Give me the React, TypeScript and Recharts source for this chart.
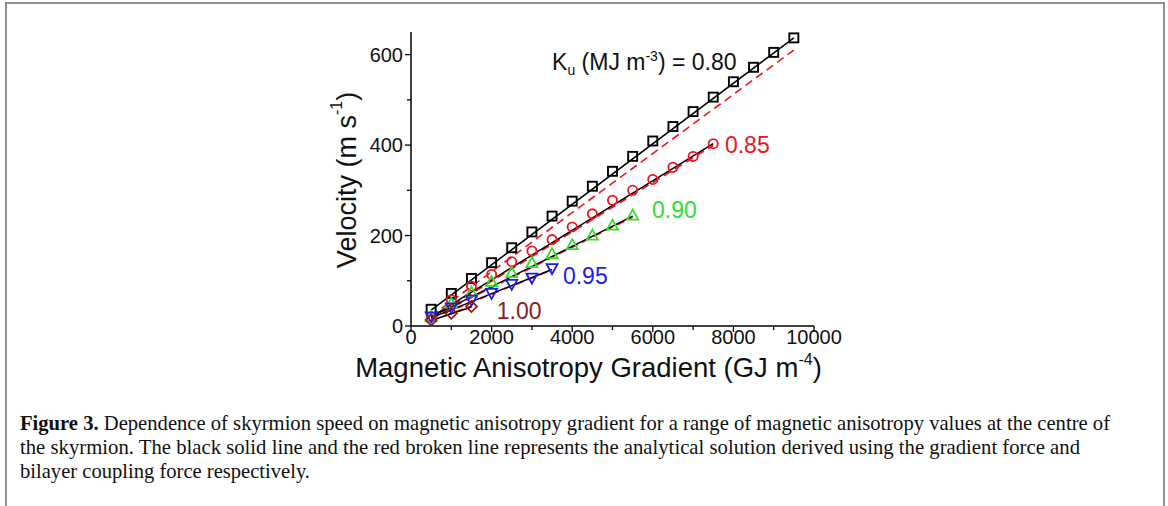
import React from 'react'
import { LineChart, Line, XAxis, YAxis, ReferenceDot, Label } from 'recharts'

// gradient values (GJ m^-4) at which the simulations were run
const GRADIENT = [500, 1000, 1500, 2000, 2500, 3000, 3500, 4000, 4500, 5000, 5500, 6000, 6500, 7000, 7500, 8000, 8500, 9000, 9500]

// simulated velocities (m/s) for each Ku value
const V080 = [37, 72, 105, 140, 173, 208, 243, 276, 309, 342, 375, 409, 441, 474, 506, 540, 572, 605, 637]
const V085 = [20, 58, 88, 114, 142, 166, 191, 219, 248, 278, 300, 324, 351, 375, 403]
const V090 = [20, 50, 75, 98, 118, 140, 160, 180, 201, 223, 245]
const V095 = [20, 40, 57, 72, 92, 106, 127]
const V100 = [13, 28, 43]

// analytical lines: [start, end] velocity, solid = gradient force, dashed = bilayer coupling
const FIT_X080 = [500, 9500]
const FIT_X085 = [500, 7500]
const FIT_X090 = [500, 5500]
const FIT_X095 = [500, 3500]
const FIT_X100 = [500, 1500]
const SOLID_080 = [35, 637]
const DASH_080 = [22, 610]
const SOLID_085 = [20, 403]
const DASH_085 = [17, 399]
const SOLID_090 = [20, 243]
const DASH_090 = [18, 241]
const SOLID_095 = [18, 125]
const DASH_095 = [17, 124]
const SOLID_100 = [12, 42]
const DASH_100 = [12, 44]

const X_TICKS = [0, 1000, 2000, 3000, 4000, 5000, 6000, 7000, 8000, 9000, 10000]
const Y_TICKS = [0, 100, 200, 300, 400, 500, 600]

const BLACK = '#000000'
const RED = '#f0141e'
const GREEN = '#2ee02e'
const BLUE = '#1c1cf0'
const MAROON = '#8e1c1c'
const SANS = '"Liberation Sans", Arial, sans-serif'

const pts = (xs: number[], vs: number[]) => vs.map((v, i) => ({ g: xs[i], v }))

// marker shapes
const square = (c: string) => (p: any) => (
  <rect key={`sq-${p.index}`} x={p.cx - 4.5} y={p.cy - 4.5} width={9} height={9} fill="none" stroke={c} strokeWidth={1.9} />
)
const circle = (c: string) => (p: any) => (
  <circle key={`ci-${p.index}`} cx={p.cx} cy={p.cy} r={4.6} fill="none" stroke={c} strokeWidth={1.8} />
)
const triUp = (c: string) => (p: any) => (
  <path key={`tu-${p.index}`} d={`M${p.cx},${p.cy - 5.5} L${p.cx + 5.5},${p.cy + 4.5} L${p.cx - 5.5},${p.cy + 4.5} Z`} fill="none" stroke={c} strokeWidth={1.8} />
)
const triDown = (c: string) => (p: any) => (
  <path key={`td-${p.index}`} d={`M${p.cx},${p.cy + 5.5} L${p.cx + 5.5},${p.cy - 4.5} L${p.cx - 5.5},${p.cy - 4.5} Z`} fill="none" stroke={c} strokeWidth={1.8} />
)
const diamond = (c: string) => (p: any) => (
  <path key={`di-${p.index}`} d={`M${p.cx},${p.cy - 5.5} L${p.cx + 5.5},${p.cy} L${p.cx},${p.cy + 5.5} L${p.cx - 5.5},${p.cy} Z`} fill="none" stroke={c} strokeWidth={1.8} />
)

// ticks: outward on bottom/left, inward on top/right
const BottomTick = ({ x, y, payload }: any) => {
  const major = payload.value % 2000 === 0
  return (
    <g>
      <line x1={x} y1={y} x2={x} y2={y + (major ? 6 : 4)} stroke={BLACK} strokeWidth={1.3} />
      {major && (
        <text x={x} y={y + 18} textAnchor="middle" fontSize={20} fontFamily={SANS} fill="#111">{payload.value}</text>
      )}
    </g>
  )
}
const TopTick = ({ x, y, payload }: any) => {
  const major = payload.value % 2000 === 0
  return <line x1={x} y1={y} x2={x} y2={y + (major ? 6 : 4)} stroke={BLACK} strokeWidth={1.3} />
}
const LeftTick = ({ x, y, payload }: any) => {
  const major = payload.value % 200 === 0
  return (
    <g>
      <line x1={x - (major ? 6 : 4)} y1={y} x2={x} y2={y} stroke={BLACK} strokeWidth={1.3} />
      {major && (
        <text x={x - 8} y={y + 7} textAnchor="end" fontSize={20} fontFamily={SANS} fill="#111">{payload.value}</text>
      )}
    </g>
  )
}
const RightTick = ({ x, y, payload }: any) => {
  const major = payload.value % 200 === 0
  return <line x1={x - (major ? 6 : 4)} y1={y} x2={x} y2={y} stroke={BLACK} strokeWidth={1.3} />
}

const note = (text: string, color: string) => (p: any) => (
  <text x={p.viewBox.x} y={p.viewBox.y} dominantBaseline="central" fontSize={23} fontFamily={SANS} fill={color}>{text}</text>
)
const kuNote = (p: any) => (
  <text x={p.viewBox.x} y={p.viewBox.y + 8} fontSize={23} fontFamily={SANS} fill="#111">
    K<tspan fontSize={14} dy={5}>u</tspan>
    <tspan dy={-5}> (MJ m</tspan>
    <tspan fontSize={14} dy={-9}>-3</tspan>
    <tspan dy={9}>) = 0.80</tspan>
  </text>
)

function Chart() {
  const axis = { stroke: BLACK, strokeWidth: 1.5 }
  const dashed = { stroke: RED, strokeWidth: 1.6, strokeDasharray: '8 5', dot: false, isAnimationActive: false }
  const solid = { stroke: BLACK, strokeWidth: 1.5, dot: false, isAnimationActive: false }
  return (
    <LineChart width={560} height={390} margin={{ top: 32, right: 46, bottom: 0, left: 0 }}>
      <XAxis xAxisId={0} type="number" dataKey="g" domain={[0, 10000]} ticks={X_TICKS} interval={0}
        height={64} tickSize={0} tickMargin={0} tickLine={false} axisLine={axis} tick={BottomTick}>
        <Label content={(p: any) => (
          <text x={p.viewBox.x + p.viewBox.width / 2 - 24} y={p.viewBox.y + 51} textAnchor="middle" fontSize={27.5} fontFamily={SANS} fill="#111">
            Magnetic Anisotropy Gradient (GJ m<tspan fontSize={16} dy={-12}>-4</tspan><tspan dy={12}>)</tspan>
          </text>
        )} />
      </XAxis>
      <XAxis xAxisId="t" orientation="top" type="number" dataKey="g" domain={[0, 10000]} ticks={X_TICKS} interval={0}
        height={0} tickSize={0} tickMargin={0} tickLine={false} axisLine={axis} tick={TopTick} />
      <YAxis yAxisId={0} type="number" domain={[0, 650]} ticks={Y_TICKS} interval={0}
        width={111} tickSize={0} tickMargin={0} tickLine={false} axisLine={axis} tick={LeftTick}>
        <Label content={() => (
          <text x={47} y={180} transform="rotate(-90 47 180)" textAnchor="middle" dominantBaseline="central" fontSize={27} fontFamily={SANS} fill="#111">
            Velocity (m s<tspan fontSize={16} dy={-11}>-1</tspan><tspan dy={11}>)</tspan>
          </text>
        )} />
      </YAxis>
      <YAxis yAxisId="r" orientation="right" type="number" domain={[0, 650]} ticks={Y_TICKS} interval={0}
        width={0} tickSize={0} tickMargin={0} tickLine={false} axisLine={axis} tick={RightTick} />

      {/* analytical lines */}
      <Line data={pts(FIT_X080, DASH_080)} dataKey="v" {...dashed} />
      <Line data={pts(FIT_X085, DASH_085)} dataKey="v" {...dashed} />
      <Line data={pts(FIT_X090, DASH_090)} dataKey="v" {...dashed} />
      <Line data={pts(FIT_X095, DASH_095)} dataKey="v" {...dashed} />
      <Line data={pts(FIT_X100, DASH_100)} dataKey="v" {...dashed} />
      <Line data={pts(FIT_X080, SOLID_080)} dataKey="v" {...solid} />
      <Line data={pts(FIT_X085, SOLID_085)} dataKey="v" {...solid} />
      <Line data={pts(FIT_X090, SOLID_090)} dataKey="v" {...solid} />
      <Line data={pts(FIT_X095, SOLID_095)} dataKey="v" {...solid} />
      <Line data={pts(FIT_X100, SOLID_100)} dataKey="v" {...solid} />

      {/* simulation points */}
      <Line data={pts(GRADIENT, V080)} dataKey="v" stroke="none" dot={square(BLACK)} activeDot={false} isAnimationActive={false} />
      <Line data={pts(GRADIENT, V085)} dataKey="v" stroke="none" dot={circle(RED)} activeDot={false} isAnimationActive={false} />
      <Line data={pts(GRADIENT, V090)} dataKey="v" stroke="none" dot={triUp(GREEN)} activeDot={false} isAnimationActive={false} />
      <Line data={pts(GRADIENT, V095)} dataKey="v" stroke="none" dot={triDown(BLUE)} activeDot={false} isAnimationActive={false} />
      <Line data={pts(GRADIENT, V100)} dataKey="v" stroke="none" dot={diamond(MAROON)} activeDot={false} isAnimationActive={false} />

      {/* series labels */}
      <ReferenceDot x={3500} y={584} r={0} stroke="none" label={kuNote} />
      <ReferenceDot x={7790} y={401} r={0} stroke="none" label={note('0.85', RED)} />
      <ReferenceDot x={5980} y={256} r={0} stroke="none" label={note('0.90', GREEN)} />
      <ReferenceDot x={3770} y={110} r={0} stroke="none" label={note('0.95', BLUE)} />
      <ReferenceDot x={2130} y={33} r={0} stroke="none" label={note('1.00', MAROON)} />
    </LineChart>
  )
}

export default function App() {
  const serif = '"Liberation Serif", "Times New Roman", serif'
  return (
    <div style={{ position: 'absolute', left: 0, top: 0, width: 1168, height: 506, background: '#fff', overflow: 'hidden' }}>
      <div style={{ position: 'absolute', left: 5, top: 2, width: 1156, height: 600, border: '2px solid #8f8f8f' }} />
      <div style={{ position: 'absolute', left: 300, top: 0 }}>
        <Chart />
      </div>
      <svg style={{ position: 'absolute', left: 0, top: 0 }} width={1168} height={506}>
        <text x={20} y={430} fontFamily={serif} fontSize={21} fill="#111" textLength={1090} lengthAdjust="spacingAndGlyphs">
          <tspan fontWeight="bold">Figure 3.</tspan>{' '}Dependence of skyrmion speed on magnetic anisotropy gradient for a range of magnetic anisotropy values at the centre of
        </text>
        <text x={20} y={454} fontFamily={serif} fontSize={21} fill="#111" textLength={1060} lengthAdjust="spacingAndGlyphs">
          the skyrmion. The black solid line and the red broken line represents the analytical solution derived using the gradient force and
        </text>
        <text x={20} y={478} fontFamily={serif} fontSize={21} fill="#111" textLength={290} lengthAdjust="spacingAndGlyphs">
          bilayer coupling force respectively.
        </text>
      </svg>
    </div>
  )
}
